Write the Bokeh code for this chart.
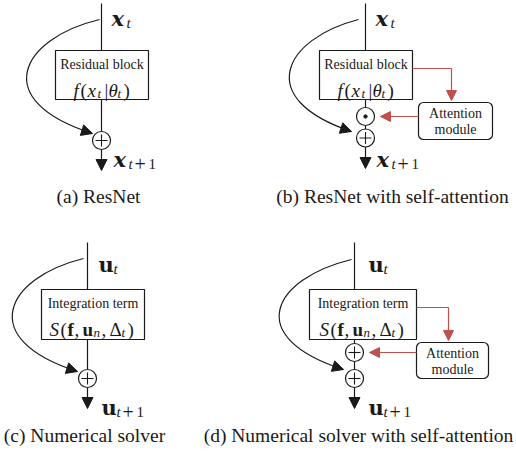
from bokeh.plotting import figure
from bokeh.models import Range1d, Arrow, NormalHead, Label, BoxAnnotation
from bokeh.embed import file_html
from bokeh.resources import INLINE
import math

# ---------------- content ----------------
captions = ["(a) ResNet", "(b) ResNet with self-attention",
            "(c) Numerical solver", "(d) Numerical solver with self-attention"]
block_titles = ["Residual block", "Residual block", "Integration term", "Integration term"]
block_math = ["f", "f", "S", "S"]
state_symbol = ["x", "x", "u", "u"]
merge_ops = [["plus"], ["odot", "plus"], ["plus"], ["plus", "plus"]]
has_attention = [False, True, False, True]
attention_lines = ["Attention", "module"]

# ---------------- layout ----------------
panels = [
    dict(sx=101, top=3, box=(55, 148, 50, 99), ops_y=[140], tip=170,
         c0=(99, 19), c3=(92, 133), lab_top=(111, 18), lab_bot=(113, 159), cap=(98, 196)),
    dict(sx=365, top=3, box=(319, 412, 50, 99), ops_y=[116, 137.5], tip=168,
         c0=(358, 19), c3=(351, 131), lab_top=(375, 18), lab_bot=(376, 159), cap=(392, 196),
         att=(418, 492, 102, 139), red_y=68, red_x=451),
    dict(sx=87, top=242, box=(41, 144, 289, 339), ops_y=[378], tip=408,
         c0=(83, 258), c3=(77, 371), lab_top=(98, 264), lab_bot=(101, 407), cap=(84, 435)),
    dict(sx=354, top=242, box=(309, 416, 289, 339), ops_y=[352, 378], tip=408,
         c0=(351, 259), c3=(343, 369), lab_top=(368, 264), lab_bot=(368, 407), cap=(358, 435),
         att=(416, 488, 342, 378), red_y=307, red_x=448),
]

BLACK = "#1a1a1a"
RED = "#c0504d"
TXT = "Liberation Serif"
MATH = "DejaVu Serif"
BOXM = "Liberation Serif"
LW = 1.2
R = 9

p = figure(width=516, height=451, x_range=Range1d(0, 516), y_range=Range1d(451, 0),
           output_backend="svg", toolbar_location=None, min_border=0,
           x_axis_location=None, y_axis_location=None)
p.grid.visible = False
p.outline_line_color = None
p.background_fill_color = "white"
p.border_fill_color = "white"


def put(x, y, text, size, style="normal", font=MATH, align="left", baseline="alphabetic", color=BLACK):
    p.add_layout(Label(x=x, y=y, text=text, text_font=font, text_font_size=f"{size}px",
                       text_font_style=style, text_align=align, text_baseline=baseline,
                       text_color=color))


def arrow(x0, y0, x1, y1, color=BLACK, size=11):
    p.add_layout(Arrow(x_start=x0, y_start=y0, x_end=x1, y_end=y1, line_color=color, line_width=LW,
                       end=NormalHead(size=size, fill_color=color, line_color=color, line_width=1)))


def state_label(ox, by, sym, sub):
    if sym == "x":
        put(ox, by, "x", 21, "bold italic")
    else:
        put(ox, by, "u", 21, "bold")
    put(ox + 15, by + 4, "t", 15, "italic", font=BOXM)
    if sub:
        put(ox + 21, by + 4, "+", 20, font=BOXM)
        put(ox + 35, by + 4, "1", 15, font=BOXM)


def box_math(kind, cx, bb):
    F = BOXM
    if kind == "f":
        put(cx - 29, bb, "f", 19, "italic", F)
        put(cx - 22, bb, "(", 19, font=F)
        put(cx - 15, bb, "x", 19, "italic", F)
        put(cx - 5, bb + 3, "t", 13, "italic", F)
        put(cx + 2, bb, "|", 19, font=F)
        put(cx + 6, bb, "θ", 19, "italic", F)
        put(cx + 15, bb + 3, "t", 13, "italic", F)
        put(cx + 21, bb, ")", 19, font=F)
    else:
        put(cx - 44, bb, "S", 19, "italic", F)
        put(cx - 33, bb, "(", 19, font=F)
        put(cx - 26, bb, "f", 19, "bold", F)
        put(cx - 19, bb, ",", 19, font=F)
        put(cx - 11, bb, "u", 19, "bold", F)
        put(cx, bb + 3, "n", 13, "italic", F)
        put(cx + 8, bb, ",", 19, font=F)
        put(cx + 16, bb, "Δ", 19, font=F)
        put(cx + 28, bb + 3, "t", 13, "italic", F)
        put(cx + 34, bb, ")", 19, font=F)


for i, pn in enumerate(panels):
    sx = pn["sx"]
    l, r, t, b = pn["box"]
    ops = merge_ops[i]
    oy = pn["ops_y"]

    # spine segments
    xs0 = [sx, sx]
    ys0 = [pn["top"], b]
    xs1 = [sx, sx]
    ys1 = [t, oy[0] - R]
    for k in range(len(oy) - 1):
        xs0.append(sx); ys0.append(oy[k] + R)
        xs1.append(sx); ys1.append(oy[k + 1] - R)
    p.segment(xs0, ys0, xs1, ys1, line_color=BLACK, line_width=LW)
    arrow(sx, oy[-1] + R, sx, pn["tip"])

    # block
    p.quad(left=[l], right=[r], top=[t], bottom=[b], fill_color="white", line_color=BLACK, line_width=LW)
    cx = (l + r) / 2
    put(cx, t + 14, block_titles[i], 14, font=TXT, align="center", baseline="middle")
    box_math(block_math[i], cx + 0.5, t + 40)

    # merge operators
    p.circle(x=[sx] * len(oy), y=oy, radius=R, fill_color="white", line_color=BLACK, line_width=LW)
    for op, y in zip(ops, oy):
        if op == "plus":
            p.segment([sx - 6, sx], [y, y - 6], [sx + 6, sx], [y, y + 6], line_color=BLACK, line_width=1.1)
        else:
            p.circle(x=[sx], y=[y], radius=1.7, fill_color=BLACK, line_color=BLACK)

    # skip connection
    x0, y0 = pn["c0"]
    x3, y3 = pn["c3"]
    c1 = (sx - 81, y0 + 19)
    c2 = (sx - 113, y3 - 33)
    p.bezier(x0=[x0], y0=[y0], x1=[x3], y1=[y3], cx0=[c1[0]], cy0=[c1[1]], cx1=[c2[0]], cy1=[c2[1]],
             line_color=BLACK, line_width=LW)
    dx, dy = x3 - c2[0], y3 - c2[1]
    n = math.hypot(dx, dy)
    arrow(x3 - 3 * dx / n, y3 - 3 * dy / n, x3, y3)

    # labels
    state_label(*pn["lab_top"], state_symbol[i], False)
    state_label(*pn["lab_bot"], state_symbol[i], True)
    put(pn["cap"][0], pn["cap"][1], captions[i], 19.5, font=TXT, align="center", baseline="middle")

    # attention module
    if has_attention[i]:
        al, ar, at, ab = pn["att"]
        p.add_layout(BoxAnnotation(left=al, right=ar, top=at, bottom=ab, fill_color="white", fill_alpha=1,
                                   line_color=BLACK, line_width=LW, line_alpha=1, border_radius=5))
        acx = (al + ar) / 2
        put(acx, at + 11, attention_lines[0], 14, font=TXT, align="center", baseline="middle")
        put(acx, at + 27, attention_lines[1], 14, font=TXT, align="center", baseline="middle")
        ry, rx = pn["red_y"], pn["red_x"]
        p.line([r, rx], [ry, ry], line_color=RED, line_width=LW)
        arrow(rx, ry, rx, at - 2, color=RED, size=10)
        arrow(al, oy[0], sx + 15, oy[0], color=RED, size=10)

open("out.html", "w").write(file_html(p, INLINE))
